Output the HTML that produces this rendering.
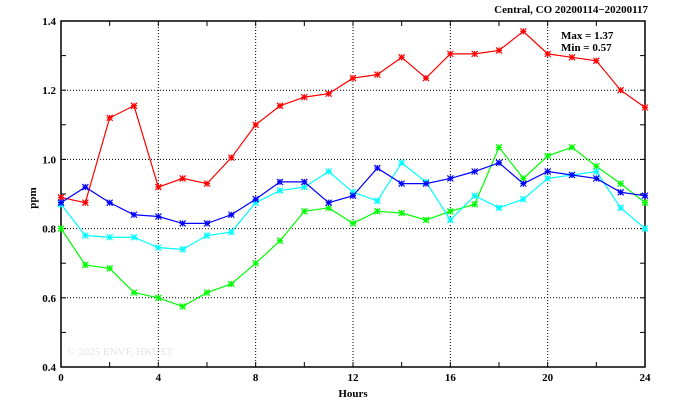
<!DOCTYPE html>
<html><head><meta charset="utf-8"><style>
html,body{margin:0;padding:0;background:#fff;width:674px;height:409px;overflow:hidden}
text{font-family:"Liberation Serif",serif;font-size:11px;fill:#000}
</style></head><body>
<svg id="s" width="674" height="409" xmlns="http://www.w3.org/2000/svg">
<text x="648" y="13" text-anchor="end" font-weight="bold" style="font-size:11px">Central, CO 20200114−20200117</text>
<text x="561" y="39" font-weight="bold">Max = 1.37</text>
<text x="561" y="51" font-weight="bold">Min = 0.57</text>
<text x="67" y="355" style="fill:#e4e4e4;font-size:11px">© 2025  ENVF, HKUST</text>
<text x="353" y="397" text-anchor="middle" font-weight="bold">Hours</text>
<text x="36" y="198" text-anchor="middle" font-weight="bold" transform="rotate(-90 36 198)">ppm</text>
</svg>
<script>
var s=document.getElementById('s'),ns='http://www.w3.org/2000/svg';
function el(t,a){var e=document.createElementNS(ns,t);for(var k in a)e.setAttribute(k,a[k]);s.appendChild(e);return e;}
var L=61,R=645,T=21,B=367;
function X(h){return L+(R-L)*h/24}function Y(v){return B-(v-0.4)*(B-T)}
for(var h=4;h<24;h+=4)el('line',{x1:X(h),x2:X(h),y1:T,y2:B,stroke:'#000','stroke-dasharray':'1,2','stroke-width':1});
for(var v=0.6;v<1.39;v+=0.2)el('line',{x1:L,x2:R,y1:Y(v),y2:Y(v),stroke:'#000','stroke-dasharray':'1,2','stroke-width':1});
for(var h=0;h<=24;h+=2){el('line',{x1:X(h),x2:X(h),y1:T,y2:T+5,stroke:'#000'});el('line',{x1:X(h),x2:X(h),y1:B,y2:B-5,stroke:'#000'});}
for(var i=0;i<=10;i++){var v=0.4+i*0.1;el('line',{x1:L,x2:L+5,y1:Y(v),y2:Y(v),stroke:'#000'});el('line',{x1:R,x2:R-5,y1:Y(v),y2:Y(v),stroke:'#000'});}
for(var h=0;h<=24;h+=4){var t=el('text',{x:X(h),y:B+14,'text-anchor':'middle','font-weight':'bold'});t.textContent=h;}
for(var i=0;i<=5;i++){var v=0.4+i*0.2;var t=el('text',{x:L-5,y:Y(v)+4,'text-anchor':'end','font-weight':'bold'});t.textContent=v.toFixed(1);}
el('rect',{x:L,y:T,width:R-L,height:B-T,fill:'none',stroke:'#000','stroke-width':1.5});
var D={
'#f00':[0.89,0.875,1.12,1.155,0.92,0.945,0.93,1.005,1.10,1.155,1.18,1.19,1.235,1.245,1.295,1.235,1.305,1.305,1.315,1.37,1.305,1.295,1.285,1.20,1.15],
'#0f0':[0.80,0.695,0.685,0.615,0.60,0.575,0.615,0.64,0.70,0.765,0.85,0.86,0.815,0.85,0.845,0.825,0.85,0.87,1.035,0.945,1.01,1.035,0.98,0.93,0.875],
'#0ff':[0.87,0.78,0.775,0.775,0.745,0.74,0.78,0.79,0.875,0.91,0.92,0.965,0.905,0.88,0.99,0.935,0.825,0.895,0.86,0.885,0.945,0.955,0.965,0.86,0.80],
'#00f':[0.875,0.92,0.875,0.84,0.835,0.815,0.815,0.84,0.885,0.935,0.935,0.875,0.895,0.975,0.93,0.93,0.945,0.965,0.99,0.93,0.965,0.955,0.945,0.905,0.895]};
for(var c in D){var p=D[c].map(function(v,i){return X(i)+','+Y(v)}).join(' ');
el('polyline',{points:p,fill:'none',stroke:c,'stroke-width':1.2});
D[c].forEach(function(v,i){var x=X(i),y=Y(v),r=3;
el('path',{d:'M'+(x-r)+' '+y+'H'+(x+r)+'M'+x+' '+(y-r)+'V'+(y+r)+'M'+(x-r)+' '+(y-r)+'L'+(x+r)+' '+(y+r)+'M'+(x-r)+' '+(y+r)+'L'+(x+r)+' '+(y-r),stroke:c,'stroke-width':1.2,fill:'none'});});}
</script>
</body></html>
